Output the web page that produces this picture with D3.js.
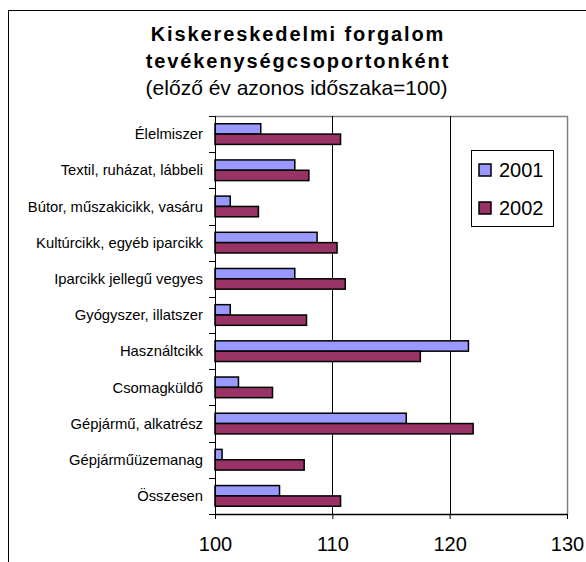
<!DOCTYPE html>
<html>
<head>
<meta charset="utf-8">
<script src="https://cdn.jsdelivr.net/npm/d3@7"></script>
<style>
  body { margin: 0; background: #fff; }
  svg { display: block; font-family: 'Liberation Sans', Arial, sans-serif; }
</style>
</head>
<body>
<div id="chart"></div>
<script>
// categories top to bottom
const categories = [
  'Élelmiszer',
  'Textil, ruházat, lábbeli',
  'Bútor, műszakicikk, vasáru',
  'Kultúrcikk, egyéb iparcikk',
  'Iparcikk jellegű vegyes',
  'Gyógyszer, illatszer',
  'Használtcikk',
  'Csomagküldő',
  'Gépjármű, alkatrész',
  'Gépjárműüzemanag',
  'Összesen',
];
const values2001 = [103.9, 106.8, 101.3, 108.7, 106.8, 101.3, 121.6, 102.0, 116.3, 100.6, 105.5];
const values2002 = [110.7, 108.0, 103.7, 110.4, 111.1, 107.8, 117.5, 104.9, 122.0, 107.6, 110.7];
const seriesNames = ['2001', '2002'];
const xTicks = [100, 110, 120, 130];

const width = 586;
const height = 562;
const colors = { '2001': '#9999FF', '2002': '#993366' };
const plot = { left: 215, right: 567, top: 116, bottom: 514 };

const rows = categories.map((name, i) => ({
  name,
  values: [
    { series: '2001', value: values2001[i] },
    { series: '2002', value: values2002[i] },
  ],
}));

const svg = d3.select('#chart')
  .append('svg')
  .attr('width', width)
  .attr('height', height);

// outer chart frame (cut off at right and bottom)
svg.append('rect')
  .attr('x', 8.5)
  .attr('y', 10.5)
  .attr('width', 700)
  .attr('height', 700)
  .attr('fill', 'none')
  .attr('stroke', '#000')
  .attr('stroke-width', 1);

// title
const title = svg.append('text')
  .attr('text-anchor', 'middle')
  .attr('fill', '#000');
title.append('tspan')
  .attr('x', 298).attr('y', 41)
  .style('font-weight', 'bold')
  .style('font-size', '20px')
  .style('letter-spacing', '1.9px')
  .text('Kiskereskedelmi forgalom');
title.append('tspan')
  .attr('x', 298).attr('y', 68)
  .style('font-weight', 'bold')
  .style('font-size', '20px')
  .style('letter-spacing', '1.9px')
  .text('tevékenységcsoportonként');
title.append('tspan')
  .attr('x', 296.5).attr('y', 95)
  .style('font-size', '21px')
  .text('(előző év azonos időszaka=100)');

// scales
const x = d3.scaleLinear()
  .domain([100, 130])
  .range([plot.left, plot.right]);

const y = d3.scaleBand()
  .domain(categories)
  .range([plot.top, plot.bottom])
  .padding(0);

const ySub = d3.scaleBand()
  .domain(seriesNames)
  .range([0, y.bandwidth()])
  .paddingInner(0)
  .paddingOuter(0.75);

// plot border (gray top/right)
svg.append('path')
  .attr('d', `M${plot.left},${plot.top + 0.5}H${plot.right + 0.5}V${plot.bottom}`)
  .attr('fill', 'none')
  .attr('stroke', '#808080')
  .attr('stroke-width', 1.5);

// gridlines
svg.append('g')
  .selectAll('line')
  .data(xTicks.filter(t => t > 100 && t < 130))
  .enter()
  .append('line')
  .attr('x1', d => Math.round(x(d)) + 0.5)
  .attr('x2', d => Math.round(x(d)) + 0.5)
  .attr('y1', plot.top)
  .attr('y2', plot.bottom)
  .attr('stroke', '#000')
  .attr('stroke-width', 1);

// bars
const group = svg.append('g')
  .selectAll('g')
  .data(rows)
  .enter()
  .append('g')
  .attr('transform', d => `translate(0, ${y(d.name)})`);

group.selectAll('rect')
  .data(d => d.values)
  .enter()
  .append('rect')
  .attr('x', x(100))
  .attr('y', d => ySub(d.series))
  .attr('width', d => x(d.value) - x(100))
  .attr('height', ySub.bandwidth())
  .attr('fill', d => colors[d.series])
  .attr('stroke', '#000')
  .attr('stroke-width', 1.5);

// y axis
const yAxis = svg.append('g')
  .attr('transform', `translate(${plot.left},0)`);
yAxis.append('line')
  .attr('x1', 0.5).attr('x2', 0.5)
  .attr('y1', plot.top).attr('y2', plot.bottom)
  .attr('stroke', '#000')
  .attr('stroke-width', 1);
yAxis.selectAll('.tick')
  .data(categories.map(c => y(c)).concat([plot.bottom]))
  .enter()
  .append('line')
  .attr('x1', -6).attr('x2', 0)
  .attr('y1', d => Math.round(d) + 0.5)
  .attr('y2', d => Math.round(d) + 0.5)
  .attr('stroke', '#000');
yAxis.selectAll('text')
  .data(categories)
  .enter()
  .append('text')
  .attr('x', -12)
  .attr('y', d => y(d) + y.bandwidth() / 2)
  .attr('dy', '0.35em')
  .attr('text-anchor', 'end')
  .style('font-size', '14.8px')
  .attr('fill', '#000')
  .text(d => d);

// x axis
const xAxis = svg.append('g')
  .attr('transform', `translate(0,${plot.bottom})`)
  .call(d3.axisBottom(x).tickValues(xTicks).tickSize(5).tickSizeOuter(0).tickPadding(18));
xAxis.select('.domain').attr('stroke', '#000').attr('stroke-width', 1.5);
xAxis.selectAll('.tick line').attr('stroke', '#000');
xAxis.selectAll('.tick text')
  .style('font-size', '20px')
  .style('font-family', "'Liberation Sans', Arial, sans-serif")
  .attr('fill', '#000');

// legend
const legend = svg.append('g')
  .attr('transform', 'translate(471, 150)');
legend.append('rect')
  .attr('x', 0.5).attr('y', 0.5)
  .attr('width', 82).attr('height', 76)
  .attr('fill', '#fff')
  .attr('stroke', '#000');
seriesNames.forEach((name, index) => {
  const item = legend.append('g')
    .attr('transform', `translate(8, ${14 + index * 38})`);
  item.append('rect')
    .attr('width', 12)
    .attr('height', 12)
    .attr('fill', colors[name])
    .attr('stroke', '#000')
    .attr('stroke-width', 1.5);
  item.append('text')
    .attr('x', 20)
    .attr('y', 6)
    .attr('dy', '0.36em')
    .style('font-size', '20px')
    .attr('fill', '#000')
    .text(name);
});
</script>
</body>
</html>
